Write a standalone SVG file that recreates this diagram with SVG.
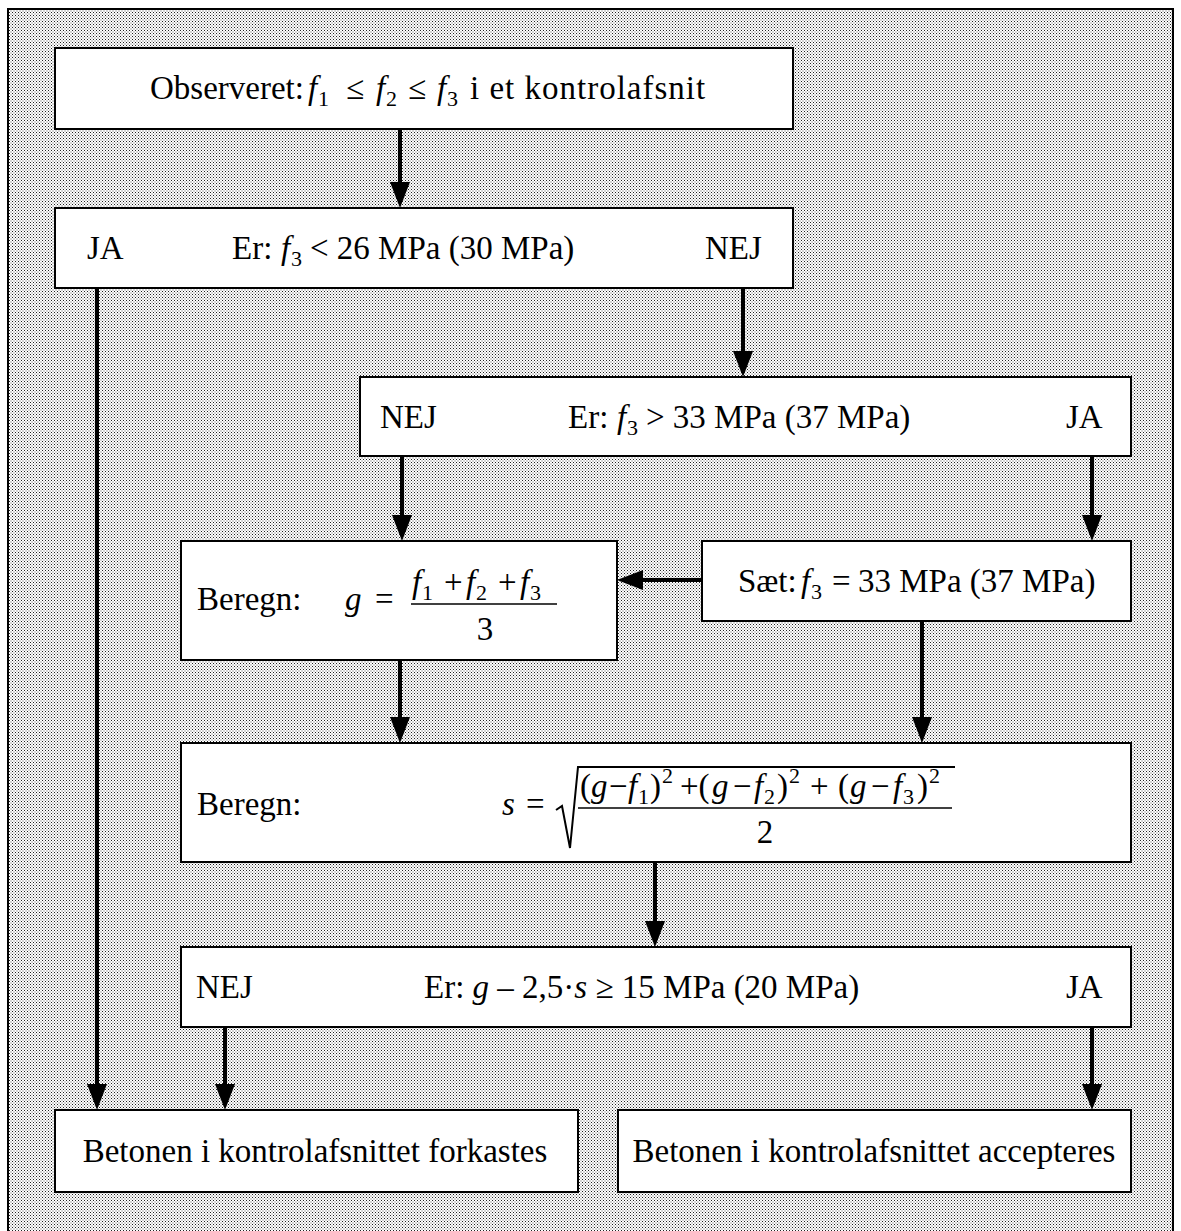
<svg xmlns="http://www.w3.org/2000/svg" width="1181" height="1231" viewBox="0 0 1181 1231">
<defs>
  <pattern id="dots" width="3" height="3" patternUnits="userSpaceOnUse">
    <rect width="3" height="3" fill="#ffffff"/>
    <rect x="0" y="0" width="1" height="1" fill="#222"/>
    <rect x="1.5" y="1.5" width="1" height="1" fill="#555"/>
  </pattern>
  <marker id="ah" markerUnits="userSpaceOnUse" markerWidth="28" markerHeight="22" refX="17" refY="10" orient="auto">
    <path d="M0,0 L26,10 L0,20 Z" fill="#000"/>
  </marker>
  <style>
    .box{fill:#fff;stroke:#000;stroke-width:2}
    .t{font-family:"Liberation Serif","Times New Roman",serif;font-size:33px;fill:#000}
    .i{font-style:italic}
    .sub{font-size:22px}
    .c{stroke:#000;stroke-width:4;fill:none;marker-end:url(#ah)}
    .ln{stroke:#000;stroke-width:1.5;fill:none}
  </style>
</defs>
<rect x="0" y="0" width="1181" height="1231" fill="#fff"/>
<rect x="8" y="9" width="1165" height="1240" fill="url(#dots)" stroke="#000" stroke-width="2"/>

<g id="connectors">
  <path class="c" d="M400,129 V199"/>
  <path class="c" d="M97,288 V1101"/>
  <path class="c" d="M743,288 V368"/>
  <path class="c" d="M402,456 V532"/>
  <path class="c" d="M1092,456 V532"/>
  <path class="c" d="M702,580 H626"/>
  <path class="c" d="M400,660 V734"/>
  <path class="c" d="M922,621 V734"/>
  <path class="c" d="M655,862 V938"/>
  <path class="c" d="M225,1027 V1101"/>
  <path class="c" d="M1092,1027 V1101"/>
</g>

<g id="observeret">
  <rect class="box" x="55" y="48" width="738" height="81"/>
  <text class="t" y="99"><tspan x="150">Observeret:</tspan><tspan class="i" x="308">f</tspan><tspan class="sub" x="318" y="106">1</tspan><tspan x="346" y="99">≤</tspan><tspan class="i" x="376">f</tspan><tspan class="sub" x="386" y="106">2</tspan><tspan x="408" y="99">≤</tspan><tspan class="i" x="437">f</tspan><tspan class="sub" x="447" y="106">3</tspan><tspan x="470" y="99" letter-spacing="1">i et kontrolafsnit</tspan></text>
</g>

<g id="test26">
  <rect class="box" x="55" y="208" width="738" height="80"/>
  <text class="t" x="87" y="259">JA</text>
  <text class="t" y="259"><tspan x="232">Er:</tspan><tspan class="i" x="281">f</tspan><tspan class="sub" x="291" y="266">3</tspan><tspan x="310" y="259">&lt; 26 MPa (30 MPa)</tspan></text>
  <text class="t" x="705" y="259">NEJ</text>
</g>

<g id="test33">
  <rect class="box" x="360" y="377" width="771" height="79"/>
  <text class="t" x="380" y="428">NEJ</text>
  <text class="t" y="428"><tspan x="568">Er:</tspan><tspan class="i" x="617">f</tspan><tspan class="sub" x="627" y="435">3</tspan><tspan x="646" y="428">&gt; 33 MPa (37 MPa)</tspan></text>
  <text class="t" x="1066" y="428">JA</text>
</g>

<g id="beregn-g">
  <rect class="box" x="181" y="541" width="436" height="119"/>
  <text class="t" x="197" y="610">Beregn:</text>
  <text class="t" y="610"><tspan class="i" x="345">g</tspan><tspan x="375">=</tspan></text>
  <text class="t" y="593"><tspan class="i" x="412">f</tspan><tspan class="sub" x="422" y="600">1</tspan><tspan x="444" y="593">+</tspan><tspan class="i" x="466">f</tspan><tspan class="sub" x="476" y="600">2</tspan><tspan x="498" y="593">+</tspan><tspan class="i" x="520">f</tspan><tspan class="sub" x="530" y="600">3</tspan></text>
  <path class="ln" d="M411,604 H557"/>
  <text class="t" x="485" y="640" text-anchor="middle">3</text>
</g>

<g id="saet">
  <rect class="box" x="702" y="541" width="429" height="80"/>
  <text class="t" y="592"><tspan x="738">Sæt:</tspan><tspan class="i" x="801">f</tspan><tspan class="sub" x="811" y="599">3</tspan><tspan x="832" y="592">=</tspan><tspan x="858">33 MPa (37 MPa)</tspan></text>
</g>

<g id="beregn-s">
  <rect class="box" x="181" y="743" width="950" height="119"/>
  <text class="t" x="197" y="815">Beregn:</text>
  <text class="t" y="815"><tspan class="i" x="502">s</tspan><tspan x="526">=</tspan></text>
  <path d="M556,810 L562,806 L570,848 L578,767 H955" fill="none" stroke="#000" stroke-width="2"/>
  <text class="t" y="797"><tspan x="580">(</tspan><tspan class="i" x="591">g</tspan><tspan x="609">−</tspan><tspan class="i" x="628">f</tspan><tspan class="sub" x="638" y="804">1</tspan><tspan x="650" y="797">)</tspan><tspan class="sub" x="662" y="783">2</tspan><tspan x="680" y="797">+(</tspan><tspan class="i" x="712">g</tspan><tspan x="733">−</tspan><tspan class="i" x="754">f</tspan><tspan class="sub" x="764" y="804">2</tspan><tspan x="777" y="797">)</tspan><tspan class="sub" x="789" y="783">2</tspan><tspan x="810" y="797">+</tspan><tspan x="838">(</tspan><tspan class="i" x="850">g</tspan><tspan x="871">−</tspan><tspan class="i" x="893">f</tspan><tspan class="sub" x="903" y="804">3</tspan><tspan x="917" y="797">)</tspan><tspan class="sub" x="929" y="783">2</tspan></text>
  <path class="ln" d="M578,808 H952"/>
  <text class="t" x="765" y="843" text-anchor="middle">2</text>
</g>

<g id="test15">
  <rect class="box" x="181" y="947" width="950" height="80"/>
  <text class="t" x="196" y="998">NEJ</text>
  <text class="t" x="424" y="998">Er: <tspan class="i">g</tspan> – 2,5·<tspan class="i">s</tspan> ≥ 15 MPa (20 MPa)</text>
  <text class="t" x="1066" y="998">JA</text>
</g>

<g id="forkastes">
  <rect class="box" x="55" y="1110" width="523" height="82"/>
  <text class="t" x="315" y="1162" text-anchor="middle">Betonen i kontrolafsnittet forkastes</text>
</g>

<g id="accepteres">
  <rect class="box" x="618" y="1110" width="513" height="82"/>
  <text class="t" x="874" y="1162" text-anchor="middle">Betonen i kontrolafsnittet accepteres</text>
</g>
</svg>
